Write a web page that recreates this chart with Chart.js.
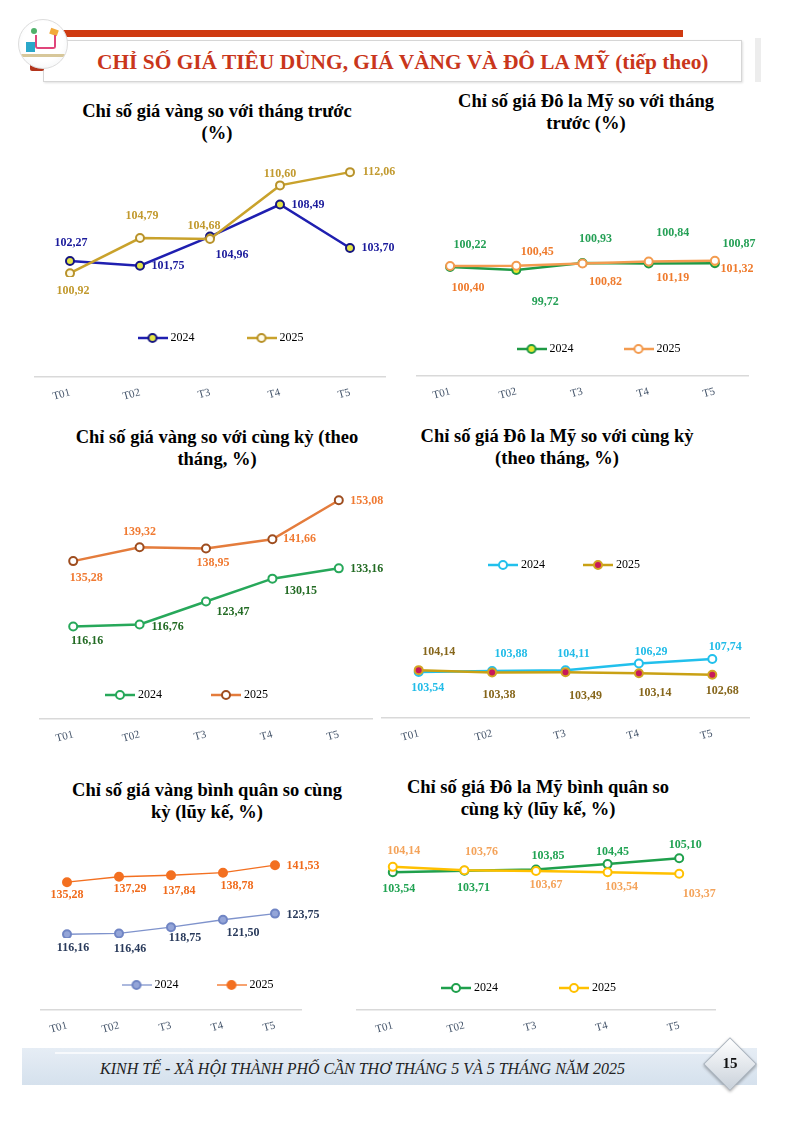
<!DOCTYPE html>
<html lang="vi">
<head>
<meta charset="utf-8">
<title>Chỉ số giá tiêu dùng, giá vàng và đô la Mỹ</title>
<script src="https://cdn.jsdelivr.net/npm/chart.js@4.4.1/dist/chart.umd.min.js"></script>
<style>
  body { margin: 0; background: #fff; font-family: "Liberation Serif", serif; }
  #page { position: relative; width: 794px; height: 1122px; overflow: hidden; background: #fff; }
  .abs { position: absolute; }
  .ctitle { position: absolute; width: 420px; text-align: center; font-weight: bold; font-size: 18.5px; line-height: 22px; color: #000; white-space: nowrap; }
  .wrap { position: absolute; }
  .wrap canvas { display: block; }

  /* header */
  #redbar { left: 62px; top: 30px; width: 621px; height: 7px; background: #cf3a10; }
  #titlebox { left: 43px; top: 40px; width: 697px; height: 40px; background: #fff; border: 1px solid #d6d6d6; box-shadow: 1px 1px 2px rgba(0,0,0,0.12); }
  #maintitle { left: 97px; top: 49px; font-size: 21.4px; line-height: 26px; font-weight: bold; color: #c9361b; white-space: nowrap; }
  #greybar { left: 755px; top: 38px; width: 6px; height: 44px; background: #ededed; }
  #logo { left: 18px; top: 19px; width: 48px; height: 48px; border-radius: 50%; border: 1px solid #ddd; background: radial-gradient(circle at 50% 45%, #fff 55%, #eef0f2 100%); overflow: hidden; }
  #logo .cart { position: absolute; left: 16px; top: 15px; width: 17px; height: 12px; border: 2px solid #e0457b; border-top: none; border-radius: 0 0 3px 3px; }
  #logo .bag { position: absolute; left: 7px; top: 22px; width: 9px; height: 10px; background: #2aa7c9; }
  #logo .tag { position: absolute; left: 31px; top: 9px; width: 8px; height: 6px; background: #f2a93b; transform: rotate(20deg); }
  #logo .leaf { position: absolute; left: 12px; top: 8px; width: 6px; height: 6px; border-radius: 50%; background: #4fb06a; }
  #logo .base { position: absolute; left: 0; top: 34px; width: 48px; height: 3px; background: #d7c79a; }
  #sleeve { left: 30px; top: 60px; width: 14px; height: 11px; background: #b3341c; border-radius: 2px; }

  /* footer */
  #footbox { left: 22px; top: 1048px; width: 735px; height: 37px; background: linear-gradient(to bottom, #e6edf5, #d5e1ed); }
  #footline { left: 55px; top: 1052px; width: 680px; height: 2px; background: #f7f9fc; }
  #foottext { left: 0; top: 1059px; width: 725px; text-align: center; font-style: italic; font-size: 16px; line-height: 20px; color: #222; white-space: nowrap; }
  #diamond { left: 711px; top: 1045px; width: 36px; height: 36px; transform: rotate(45deg); background: linear-gradient(135deg, #ffffff, #c9d1da); border: 1px solid #aab3bd; box-shadow: 1px 1px 3px rgba(0,0,0,0.3); }
  #pageno { left: 711px; top: 1054px; width: 38px; text-align: center; font-weight: bold; font-size: 15px; line-height: 18px; color: #111; }
</style>
</head>
<body>
<div id="page">
  <div class="abs" id="redbar"></div>
  <div class="abs" id="titlebox"></div>
  <div class="abs" id="greybar"></div>
  <div class="abs" id="maintitle">CHỈ SỐ GIÁ TIÊU DÙNG, GIÁ VÀNG VÀ ĐÔ LA MỸ (tiếp theo)</div>
  <div class="abs" id="sleeve"></div>
  <div class="abs" id="logo"><div class="leaf"></div><div class="tag"></div><div class="cart"></div><div class="bag"></div><div class="base"></div></div>

  <div class="ctitle" style="left:7px;top:100px;">Chỉ số giá vàng so với tháng trước<br>(%)</div>
  <div class="ctitle" style="left:376px;top:90px;">Chỉ số giá Đô la Mỹ so với tháng<br>trước (%)</div>
  <div class="ctitle" style="left:7px;top:426px;">Chỉ số giá vàng so với cùng kỳ (theo<br>tháng, %)</div>
  <div class="ctitle" style="left:347px;top:425px;">Chỉ số giá Đô la Mỹ so với cùng kỳ<br>(theo tháng, %)</div>
  <div class="ctitle" style="left:-3px;top:779px;">Chỉ số giá vàng bình quân so cùng<br>kỳ (lũy kế, %)</div>
  <div class="ctitle" style="left:328px;top:776px;">Chỉ số giá Đô la Mỹ bình quân so<br>cùng kỳ (lũy kế, %)</div>

  <div class="wrap" style="left:25px;top:148px;width:390px;height:257px;"><canvas id="goldMoM"></canvas></div>
  <div class="wrap" style="left:400px;top:140px;width:390px;height:264px;"><canvas id="usdMoM"></canvas></div>
  <div class="wrap" style="left:0px;top:475px;width:395px;height:272px;"><canvas id="goldYoY"></canvas></div>
  <div class="wrap" style="left:370px;top:475px;width:405px;height:271px;"><canvas id="usdYoY"></canvas></div>
  <div class="wrap" style="left:25px;top:828px;width:340px;height:210px;"><canvas id="goldAvg"></canvas></div>
  <div class="wrap" style="left:335px;top:828px;width:430px;height:210px;"><canvas id="usdAvg"></canvas></div>

  <div class="abs" id="footbox"></div>
  <div class="abs" id="footline"></div>
  <div class="abs" id="foottext">KINH TẾ - XÃ HỘI THÀNH PHỐ CẦN THƠ THÁNG 5 VÀ 5 THÁNG NĂM 2025</div>
  <div class="abs" id="diamond"></div>
  <div class="abs" id="pageno">15</div>
</div>

<script>
// du lieu
const months = ['T01', 'T02', 'T3', 'T4', 'T5'];
const seriesNames = ['2024', '2025'];

const goldMoM2024 = [102.27, 101.75, 104.96, 108.49, 103.70];
const goldMoM2025 = [100.92, 104.79, 104.68, 110.60, 112.06];

const usdMoM2024 = [100.22, 99.72, 100.93, 100.84, 100.87];
const usdMoM2025 = [100.40, 100.45, 100.82, 101.19, 101.32];

const goldYoY2024 = [116.16, 116.76, 123.47, 130.15, 133.16];
const goldYoY2025 = [135.28, 139.32, 138.95, 141.66, 153.08];

const usdYoY2024 = [103.54, 103.88, 104.11, 106.29, 107.74];
const usdYoY2025 = [104.14, 103.38, 103.49, 103.14, 102.68];

const goldAvg2024 = [116.16, 116.46, 118.75, 121.50, 123.75];
const goldAvg2025 = [135.28, 137.29, 137.84, 138.78, 141.53];

const usdAvg2024 = [103.54, 103.71, 103.85, 104.45, 105.10];
const usdAvg2025 = [104.14, 103.76, 103.67, 103.54, 103.37];

Chart.defaults.font.family = '"Liberation Serif", serif';
Chart.defaults.animation = false;

let fmt = (v) => v.toFixed(2).replace('.', ',');

// nhan so lieu canh moi diem
const valueLabels = {
    id: 'valueLabels',
    afterDatasetsDraw(chart) {
        const ctx = chart.ctx;
        ctx.save();
        ctx.font = 'bold 12px "Liberation Serif"';
        ctx.textAlign = 'center';
        ctx.textBaseline = 'middle';
        chart.data.datasets.forEach((ds, i) => {
            chart.getDatasetMeta(i).data.forEach((pt, j) => {
                const s = ds.labelShift[j];
                ctx.fillStyle = ds.labelColor;
                ctx.fillText(fmt(ds.data[j]), pt.x + s[0], pt.y + s[1]);
            });
        });
        ctx.restore();
    }
};

// bieu tuong chu giai kieu Excel: duong + diem tron
let legendIcon = (s) => {
    const c = document.createElement('canvas');
    c.width = 30; c.height = 12;
    const g = c.getContext('2d');
    g.strokeStyle = s.line; g.lineWidth = s.width || 2.5;
    g.beginPath(); g.moveTo(0, 6); g.lineTo(30, 6); g.stroke();
    g.beginPath(); g.arc(15, 6, 4, 0, Math.PI * 2);
    g.fillStyle = s.fill; g.fill();
    g.strokeStyle = s.border; g.lineWidth = 2; g.stroke();
    return c;
};

let plot = (id, set) => {
    const datasets = set.series.map((s, i) => ({
        label: seriesNames[i],
        data: s.data,
        borderColor: s.line,
        borderWidth: s.width || 2.5,
        pointRadius: 4,
        pointHoverRadius: 4,
        pointBorderWidth: 2,
        pointBackgroundColor: s.fill,
        pointBorderColor: s.border,
        labelColor: s.text,
        labelShift: s.shift,
        icon: legendIcon(s),
        order: 1 - i
    }));

    const scales = {
        x: {
            offset: true,
            grid: { display: false, drawTicks: false },
            border: { color: '#d9d9d9', width: 1.5 },
            ticks: { color: '#44546a', font: { size: 11 }, minRotation: 15, maxRotation: 15, padding: 9 },
            afterFit: (s) => { s.height = 28; }
        },
        y: {
            min: set.min,
            max: set.max,
            display: !!set.yWidth,
            position: set.yPos || 'left',
            grid: { display: false, drawTicks: false },
            border: { display: false },
            ticks: { display: false }
        }
    };
    if (set.yWidth) {
        scales.y.afterFit = (s) => { s.width = set.yWidth; };
    }
    if (set.gap) {
        scales.gap = {
            type: 'category',
            position: 'bottom',
            weight: -1,
            grid: { display: false, drawTicks: false },
            border: { display: false },
            ticks: { display: false },
            afterFit: (s) => { s.height = set.gap; }
        };
    }

    const config = {
        type: 'line',
        data: { labels: months, datasets: datasets },
        options: {
            responsive: true,
            maintainAspectRatio: false,
            layout: { padding: set.pad },
            scales: scales,
            plugins: {
                tooltip: { enabled: false },
                legend: {
                    position: set.legendPos || 'bottom',
                    weight: -2,
                    labels: {
                        usePointStyle: true,
                        pointStyleWidth: 24,
                        padding: set.legendPad,
                        color: '#000',
                        font: { size: 12 },
                        sort: (a, b) => a.datasetIndex - b.datasetIndex,
                        generateLabels: (chart) => Chart.defaults.plugins.legend.labels.generateLabels(chart)
                            .map(it => Object.assign(it, { pointStyle: chart.data.datasets[it.datasetIndex].icon }))
                    }
                }
            }
        },
        plugins: [valueLabels]
    };

    return new Chart(document.getElementById(id), config);
};

plot('goldMoM', {
    min: 100.5, max: 114.06,
    pad: { left: 10, right: 6, top: 0, bottom: 0 }, yPos: 'right', yWidth: 24,
    legendPad: 55, gap: 23,
    series: [
        { data: goldMoM2024, line: '#1f1fb0', fill: '#e4e646', border: '#161680', text: '#1c1c9c',
          shift: [[1, -18], [28, 0], [22, 18], [28, 0], [28, 0]] },
        { data: goldMoM2025, line: '#c9a22c', fill: '#fffbe8', border: '#b8922a', text: '#c29a2f',
          shift: [[3, 18], [2, -22], [-6, -13], [0, -11], [29, 0]] }
    ]
});

plot('usdMoM', {
    min: 96.22, max: 121.27,
    pad: { left: 17, right: 7, top: 0, bottom: 0 }, yPos: 'right', yWidth: 35,
    legendPad: 53, gap: 11,
    series: [
        { data: usdMoM2024, line: '#1f9a45', fill: '#e6e82e', border: '#1f9a45', text: '#25a056',
          shift: [[20, -22], [29, 32], [13, -24], [24, -31], [24, -19]] },
        { data: usdMoM2025, line: '#f39b4f', fill: '#ffffff', border: '#f39b4f', text: '#ef7b2d',
          shift: [[18, 22], [21, -14], [23, 18], [24, 16], [22, 8]] }
    ]
});

plot('goldYoY', {
    min: 113.08, max: 158.71,
    pad: { left: 4, right: 23, top: 0, bottom: 0 }, yPos: 'left', yWidth: 36,
    legendPad: 52, gap: 8,
    series: [
        { data: goldYoY2024, line: '#27a85a', fill: '#ffffff', border: '#27a85a', text: '#236b24',
          shift: [[14, 14], [28, 2], [27, 10], [28, 12], [28, 1]] },
        { data: goldYoY2025, line: '#e47c3c', fill: '#ffffff', border: '#9e4d1f', text: '#f07a32',
          shift: [[13, 17], [0, -15], [7, 14], [27, 0], [28, 1]] }
    ]
});

plot('usdYoY', {
    min: 88.7, max: 132.9,
    pad: { left: 12, right: 26, top: 43, bottom: 0 },
    legendPos: 'top', legendPad: 41,
    series: [
        { data: usdYoY2024, line: '#22c0ec', fill: '#ffffff', border: '#22c0ec', text: '#22bce8',
          shift: [[9, 16], [19, -17], [8, -16], [12, -12], [13, -12]] },
        { data: usdYoY2025, line: '#c9a114', fill: '#c8185a', border: '#d2a324', text: '#86661b',
          shift: [[20, -18], [7, 22], [20, 24], [16, 20], [10, 16]] }
    ]
});

plot('goldAvg', {
    min: 114.79, max: 152.99,
    pad: { left: 16, right: 8, top: 0, bottom: 0 }, yPos: 'right', yWidth: 56,
    legendPad: 41, gap: 9,
    series: [
        { data: goldAvg2024, line: '#7f93cc', fill: '#94a5d8', border: '#7085c4', text: '#2a3b5c', width: 1.3,
          shift: [[6, 14], [11, 15], [14, 11], [20, 13], [28, 1]] },
        { data: goldAvg2025, line: '#f37021', fill: '#f37021', border: '#f37021', text: '#f06b1c', width: 1.3,
          shift: [[0, 13], [11, 12], [8, 16], [14, 13], [28, 1]] }
    ]
});

plot('usdAvg', {
    min: 98.43, max: 107.81,
    pad: { left: 10, right: 50, top: 0, bottom: 0 }, yPos: 'left', yWidth: 12,
    legendPad: 64, gap: 6,
    series: [
        { data: usdAvg2024, line: '#1fa04c', fill: '#ffffff', border: '#1fa04c', text: '#21a353',
          shift: [[6, 17], [9, 17], [12, -14], [5, -12], [6, -13]] },
        { data: usdAvg2025, line: '#ffc000', fill: '#ffffff', border: '#ffc000', text: '#f4a35a',
          shift: [[11, -16], [17, -18], [10, 14], [14, 15], [20, 20]] }
    ]
});
</script>
</body>
</html>
